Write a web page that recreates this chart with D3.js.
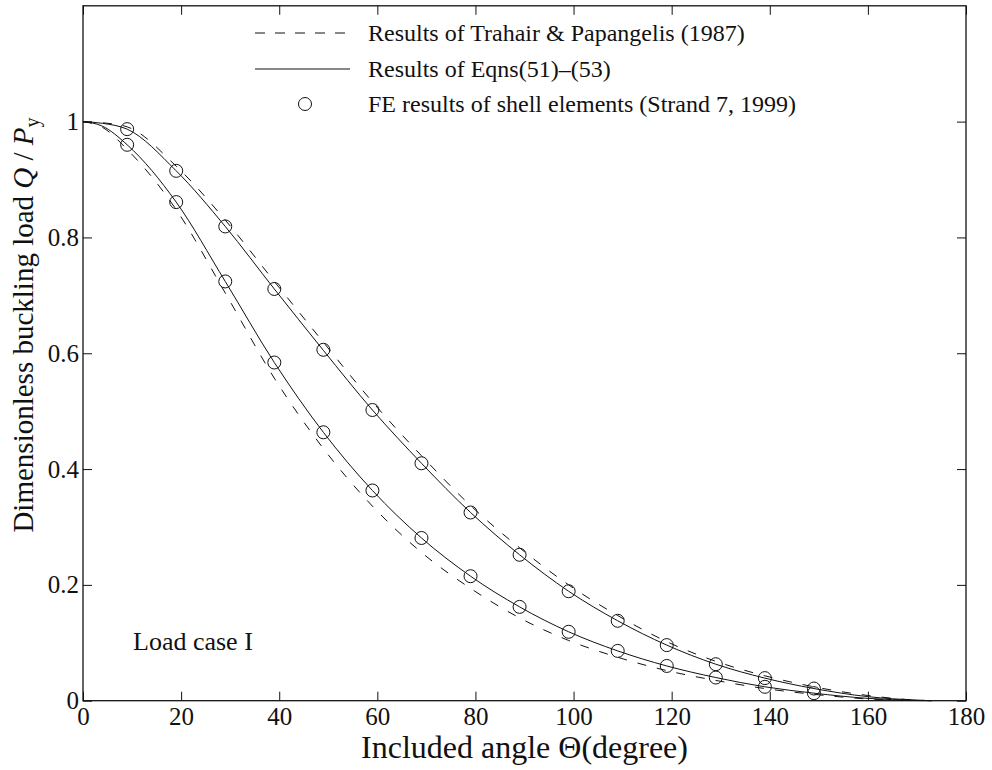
<!DOCTYPE html>
<html>
<head>
<meta charset="utf-8">
<script src="https://cdn.jsdelivr.net/npm/d3@7/dist/d3.min.js"></script>
<style>
  html, body { margin: 0; padding: 0; background: #fff; }
  svg { display: block; font-family: "Liberation Serif", "Times New Roman", serif; }
</style>
</head>
<body>
<svg id="chart" width="992" height="770"></svg>
<script>
// Included angle (degrees) sampled along the curves
const curveAngles = [0, 4, 9, 19, 29, 39, 49, 59, 69, 79, 89, 99, 109, 119, 129, 139, 149, 160, 170, 173];

// Results of Eqns (51)-(53): two branches
const eqnUpper = [1.0, 0.997, 0.987, 0.915, 0.819, 0.711, 0.605, 0.502, 0.410, 0.325, 0.252, 0.189, 0.138, 0.096, 0.063, 0.039, 0.021, 0.007, 0.001, 0];
const eqnLower = [1.0, 0.992, 0.960, 0.861, 0.724, 0.584, 0.4635, 0.363, 0.281, 0.215, 0.162, 0.119, 0.086, 0.060, 0.040, 0.024, 0.013, 0.004, 0.0005, 0];

// Trahair & Papangelis (1987): two branches
const trahairUpper = [1.0, 0.998, 0.991, 0.923, 0.830, 0.724, 0.619, 0.516, 0.423, 0.337, 0.264, 0.200, 0.147, 0.102, 0.068, 0.043, 0.024, 0.009, 0.001, 0];
const trahairLower = [1.0, 0.990, 0.952, 0.848, 0.704, 0.557, 0.4355, 0.336, 0.256, 0.194, 0.143, 0.104, 0.075, 0.052, 0.035, 0.021, 0.011, 0.003, 0.0003, 0];

// FE results of shell elements (Strand 7, 1999)
const feAngles = [9, 19, 29, 39, 49, 59, 69, 79, 89, 99, 109, 119, 129, 139, 149];
const feUpper = [0.987, 0.915, 0.819, 0.711, 0.606, 0.502, 0.410, 0.325, 0.252, 0.189, 0.138, 0.096, 0.063, 0.039, 0.021];
const feLower = [0.960, 0.861, 0.724, 0.584, 0.4635, 0.363, 0.281, 0.215, 0.162, 0.119, 0.086, 0.060, 0.040, 0.024, 0.013];

const xTicks = [0, 20, 40, 60, 80, 100, 120, 140, 160, 180];
const yTicks = [0, 0.2, 0.4, 0.6, 0.8, 1];

const legendLabels = [
  "Results of Trahair & Papangelis (1987)",
  "Results of Eqns(51)\u2013(53)",
  "FE results of shell elements (Strand 7, 1999)"
];

const svg = d3.select("#chart");
const plotLeft = 83, plotRight = 966, plotTop = 5.8, plotBottom = 700.7;

const x = d3.scaleLinear().domain([0, 180]).range([plotLeft, plotRight]);
const y = d3.scaleLinear().domain([0, 1.2]).range([plotBottom, plotTop]);

const tickLen = 9;
const tickFont = 25;
const legendFont = 24;
const ink = "#111";

// Axes with inward ticks on all four sides
const axisB = d3.axisBottom(x).tickValues(xTicks).tickSize(-tickLen).tickPadding(7).tickFormat(d3.format("d"));
const axisT = d3.axisTop(x).tickValues(xTicks).tickSize(-tickLen).tickFormat("");
const axisL = d3.axisLeft(y).tickValues(yTicks).tickSize(-tickLen).tickPadding(4)
  .tickFormat(d => d === 0 || d === 1 ? String(d) : d3.format(".1f")(d));
const axisR = d3.axisRight(y).tickValues(yTicks).tickSize(-tickLen).tickFormat("");

function styleAxis(g) {
  g.select(".domain").remove();
  g.selectAll(".tick line").attr("stroke", ink).attr("stroke-width", 1);
  g.selectAll(".tick text").attr("fill", ink).style("font-size", tickFont + "px")
    .style("font-family", "'Liberation Serif', 'Times New Roman', serif");
}

svg.append("g").attr("transform", `translate(0,${plotBottom})`).call(axisB).call(styleAxis);
svg.append("g").attr("transform", `translate(0,${plotTop})`).call(axisT).call(styleAxis);
svg.append("g").attr("transform", `translate(${plotLeft},0)`).call(axisL).call(styleAxis);
svg.append("g").attr("transform", `translate(${plotRight},0)`).call(axisR).call(styleAxis);

// Frame
svg.append("rect")
  .attr("x", plotLeft).attr("y", plotTop)
  .attr("width", plotRight - plotLeft).attr("height", plotBottom - plotTop)
  .attr("fill", "none").attr("stroke", ink).attr("stroke-width", 1.3);

const line = d3.line()
  .x(d => x(d[0]))
  .y(d => y(d[1]))
  .curve(d3.curveMonotoneX);

const plot = svg.append("g");

[trahairUpper, trahairLower].forEach(vals => {
  plot.append("path")
    .attr("d", line(curveAngles.map((a, i) => [a, vals[i]])))
    .attr("fill", "none").attr("stroke", ink).attr("stroke-width", 1)
    .attr("stroke-dasharray", "9,11");
});

[eqnUpper, eqnLower].forEach(vals => {
  plot.append("path")
    .attr("d", line(curveAngles.map((a, i) => [a, vals[i]])))
    .attr("fill", "none").attr("stroke", ink).attr("stroke-width", 1);
});

[feUpper, feLower].forEach(vals => {
  plot.selectAll(null)
    .data(feAngles.map((a, i) => [a, vals[i]]))
    .enter().append("circle")
    .attr("cx", d => x(d[0])).attr("cy", d => y(d[1]))
    .attr("r", 6.5)
    .attr("fill", "none").attr("stroke", ink).attr("stroke-width", 1);
});

// Legend
const legendX0 = 255, legendX1 = 352, legendTextX = 368;
const legendRows = [33, 69, 104];
const legend = svg.append("g");
legend.append("line").attr("x1", legendX0).attr("x2", legendX1)
  .attr("y1", legendRows[0]).attr("y2", legendRows[0])
  .attr("stroke", ink).attr("stroke-width", 1).attr("stroke-dasharray", "10,10");
legend.append("line").attr("x1", legendX0).attr("x2", legendX1 - 2)
  .attr("y1", legendRows[1]).attr("y2", legendRows[1])
  .attr("stroke", ink).attr("stroke-width", 1);
legend.append("circle").attr("cx", 305).attr("cy", legendRows[2]).attr("r", 6.5)
  .attr("fill", "none").attr("stroke", ink).attr("stroke-width", 1);
legendLabels.forEach((t, i) => {
  legend.append("text")
    .attr("x", legendTextX).attr("y", legendRows[i])
    .attr("dy", "0.35em")
    .style("font-size", legendFont + "px")
    .attr("fill", ink)
    .text(t);
});

// Annotation
svg.append("text")
  .attr("x", 133).attr("y", 650)
  .style("font-size", "26px")
  .attr("fill", ink)
  .text("Load case I");

// Axis titles
svg.append("text")
  .attr("x", (plotLeft + plotRight) / 2).attr("y", 758)
  .attr("text-anchor", "middle")
  .style("font-size", "32px")
  .attr("fill", ink)
  .text("Included angle \u0398(degree)");

const yTitle = svg.append("text")
  .attr("transform", "translate(33,325) rotate(-90)")
  .attr("text-anchor", "middle")
  .style("font-size", "29px")
  .attr("fill", ink);
yTitle.append("tspan").text("Dimensionless buckling load ");
yTitle.append("tspan").style("font-style", "italic").text("Q");
yTitle.append("tspan").text(" / ");
yTitle.append("tspan").style("font-style", "italic").text("P");
yTitle.append("tspan").attr("dy", "0.3em").style("font-size", "20px").text("y");
</script>
</body>
</html>
